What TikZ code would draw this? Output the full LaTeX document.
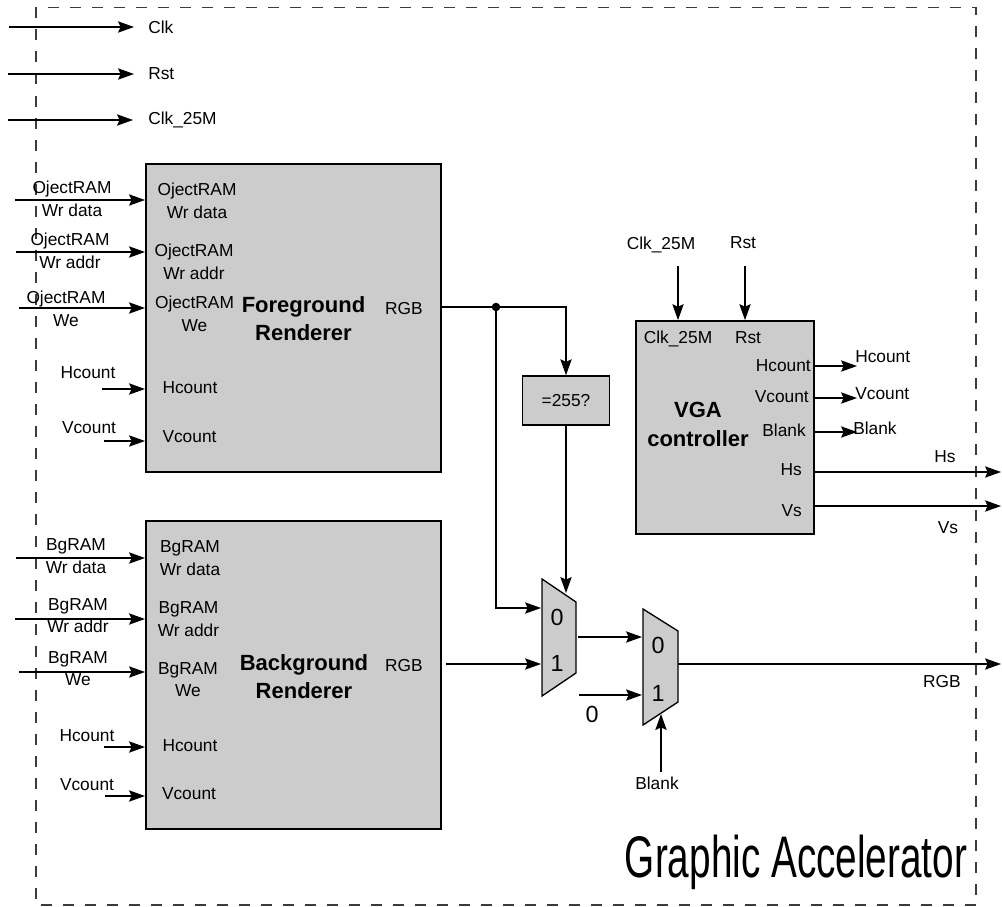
\documentclass[tikz,border=0pt]{standalone}
\usepackage{fontspec}
\setmainfont{Liberation Sans}
\usetikzlibrary{arrows.meta}
\definecolor{blockgray}{RGB}{204,204,204}
\definecolor{framegray}{RGB}{60,60,60}
\begin{document}
\begin{tikzpicture}[x=0.75pt,y=-0.75pt,
  every node/.style={inner sep=0pt, font=\fontsize{13}{17}\selectfont, text=black, align=center},
  arr/.style={-{Stealth[length=12pt,width=8.5pt,inset=2pt]}, line width=0.9pt},
  wire/.style={line width=0.9pt},
  block/.style={draw, line width=1.5pt, fill=blockgray},
  smallblock/.style={draw, line width=1.1pt, fill=blockgray},
  mux/.style={draw, line width=1pt, fill=blockgray},
  big/.style={font=\fontsize{16.5}{21}\selectfont\bfseries},
  vgabig/.style={font=\fontsize{16.5}{21.75}\selectfont\bfseries},
  muxnum/.style={font=\fontsize{17.5}{20}\selectfont},
  frame/.style={draw=framegray, line width=1pt, dash pattern=on 8.25pt off 8.25pt}
]
\useasboundingbox (0,0) rectangle (1002,906);

% outer dashed frame
\draw[frame] (36,7.5) rectangle (976,905);

% blocks
\node[block, minimum width=221.25pt, minimum height=231pt] (fg) at (293.5,318) {};
\node[block, minimum width=221.25pt, minimum height=231pt] (bg) at (293.5,675) {};
\node[smallblock, minimum width=65.25pt, minimum height=36.75pt] (eq) at (566,400.5) {=255?};
\node[block, line width=1.3pt, minimum width=133.5pt, minimum height=159.75pt] (vga) at (725,427.5) {};

% multiplexers
\draw[mux] (542,579) coordinate (m1tl) -- (576,602) coordinate (m1tr) -- (576,673) coordinate (m1br) -- (542,696) coordinate (m1bl) -- cycle;
\draw[mux] (643,609) coordinate (m2tl) -- (678,631) coordinate (m2tr) -- (678,702) coordinate (m2br) -- (643,725) coordinate (m2bl) -- cycle;
\node[muxnum] (m1z) at (557,617) {0};
\node[muxnum] (m1one) at (557,663) {1};
\node[muxnum] (m2z) at (658,645) {0};
\node[muxnum] (m2one) at (658,693) {1};

% top global inputs
\coordinate (clks) at (9,27);   \coordinate (clke) at (134,27);
\coordinate (rsts) at (8,74);   \coordinate (rste) at (134,74);
\coordinate (c25s) at (8,120);  \coordinate (c25e) at (133,120);
\draw[arr] (clks) -- (clke);
\draw[arr] (rsts) -- (rste);
\draw[arr] (c25s) -- (c25e);
\node[anchor=west] (clkL) at (148,27) {Clk};
\node[anchor=west] (rstL) at (148,74) {Rst};
\node[anchor=west] (c25L) at (148,120) {Clk\_25M};

% foreground inputs
\coordinate (fa1) at (15,200);
\coordinate (fa2) at (16,252);
\coordinate (fa3) at (19,308);
\coordinate (fa4) at (102,389);
\coordinate (fa5) at (104,441);
\foreach \c in {fa1,fa2,fa3,fa4,fa5} \draw[arr] (\c) -- (\c -| fg.west);
\node (fo1) at (72,199) {OjectRAM\\Wr data};
\node (fo2) at (70,251) {OjectRAM\\Wr addr};
\node (fo3) at (66,308.5) {OjectRAM\\We};
\node (fo4) at (88,373) {Hcount};
\node (fo5) at (89,428) {Vcount};
\node (fi1) at (197,200.5) {OjectRAM\\Wr data};
\node (fi2) at (194,261.5) {OjectRAM\\Wr addr};
\node (fi3) at (194.5,313.5) {OjectRAM\\We};
\node (fi4) at (190,388) {Hcount};
\node (fi5) at (189.5,437) {Vcount};
\node[big] (fbig) at (303.5,319) {Foreground\\Renderer};
\node (frgb) at (404,309) {RGB};

% background inputs
\coordinate (ba1) at (16,558);
\coordinate (ba2) at (15,619);
\coordinate (ba3) at (19,672);
\coordinate (ba4) at (104,747);
\coordinate (ba5) at (105,796);
\foreach \c in {ba1,ba2,ba3,ba4,ba5} \draw[arr] (\c) -- (\c -| bg.west);
\node (bo1) at (76,556) {BgRAM\\Wr data};
\node (bo2) at (78,615.5) {BgRAM\\Wr addr};
\node (bo3) at (78,668.5) {BgRAM\\We};
\node (bo4) at (87,736) {Hcount};
\node (bo5) at (87,785) {Vcount};
\node (bi1) at (190,558) {BgRAM\\Wr data};
\node (bi2) at (188.5,619) {BgRAM\\Wr addr};
\node (bi3) at (188,679.5) {BgRAM\\We};
\node (bi4) at (190,746) {Hcount};
\node (bi5) at (189,794) {Vcount};
\node[big] (bbig) at (304,676.5) {Background\\Renderer};
\node (brgb) at (404,666) {RGB};

% datapath
\coordinate (dot) at (496,307);
\coordinate (m1a) at (541,608);
\coordinate (m1b) at (541,664);
\coordinate (m1sel) at (566,593);
\coordinate (m1o) at (578,637);
\coordinate (m2a) at (642,637);
\coordinate (z0) at (579,695);
\coordinate (m2b) at (642,695);
\coordinate (m2sel) at (661,714);
\coordinate (blk) at (661,772);
\coordinate (m2o) at (678,664);
\coordinate (rgbout) at (1001,664);
\draw[arr] (fg.east |- dot) -- (dot) -- (dot -| eq.north) -- (eq.north);
\fill (dot) circle[radius=3.2pt];
\draw[arr] (dot) -- (dot |- m1a) -- (m1a);
\draw[arr] (eq.south) -- (m1sel);
\draw[arr] ([xshift=3pt]bg.east |- m1b) -- (m1b);
\draw[arr] (m1o) -- (m2a);
\draw[arr] (z0) -- (m2b);
\node[muxnum] (zl) at (592,714) {0};
\draw[arr] (blk) -- (m2sel);
\node (blankL) at (657,783) {Blank};
\draw[arr] (m2o) -- (rgbout);
\node (rgbL) at (942,682) {RGB};

% VGA controller
\coordinate (vcin) at (678,266);
\coordinate (vrin) at (745,266);
\draw[arr] (vcin) -- (vcin |- vga.north);
\draw[arr] (vrin) -- (vrin |- vga.north);
\node (vclkA) at (661,245) {Clk\_25M};
\node (vrstA) at (743,243) {Rst};
\node (vclk) at (678,339) {Clk\_25M};
\node (vrst) at (748,338) {Rst};
\node[anchor=east] (vh) at (811,366) {Hcount};
\node[anchor=east] (vv) at (809,397) {Vcount};
\node[anchor=east] (vb) at (806,430) {Blank};
\node[anchor=east] (vhs) at (802,470) {Hs};
\node[anchor=east] (vvs) at (802,511) {Vs};
\node[vgabig] (vbig) at (698,424.5) {VGA\\controller};

\coordinate (oh) at (857,366);
\coordinate (ov) at (857,398);
\coordinate (ob) at (857,432);
\coordinate (ohs) at (1001,472);
\coordinate (ovs) at (1001,506);
\foreach \c in {oh,ov,ob,ohs,ovs} \draw[arr] (vga.east |- \c) -- (\c);
\node[anchor=west] (ohL) at (855,357) {Hcount};
\node[anchor=west] (ovL) at (855,394) {Vcount};
\node[anchor=west] (obL) at (853,428) {Blank};
\node (ohsL) at (945,457) {Hs};
\node (ovsL) at (948,528) {Vs};

% title
\node[anchor=base, font=\fontsize{44}{48}\selectfont] (title) at (796,877) {\scalebox{0.66}[1]{Graphic Accelerator}};
\end{tikzpicture}
\end{document}
